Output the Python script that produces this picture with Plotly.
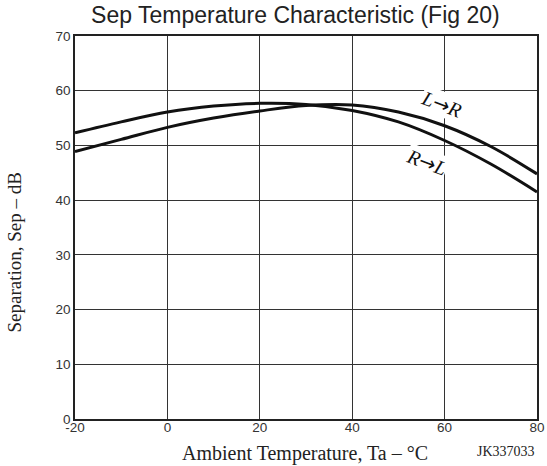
import plotly.graph_objects as go

temps = [-20, -10, 0, 10, 20, 30, 40, 50, 60, 70, 80]
sep_r_to_l = [52.3, 54.3, 56.1, 57.2, 57.7, 57.5, 56.4, 54.3, 50.9, 46.6, 41.5]
sep_l_to_r = [48.9, 51.1, 53.3, 55.0, 56.3, 57.3, 57.4, 56.1, 53.6, 49.8, 44.8]
x_ticks = [-20, 0, 20, 40, 60, 80]
y_ticks = [0, 10, 20, 30, 40, 50, 60, 70]

fig = go.Figure()
fig.add_trace(go.Scatter(x=temps, y=sep_r_to_l, mode="lines", name="R→L",
                         line=dict(color="#111", width=3, shape="spline", smoothing=1.0)))
fig.add_trace(go.Scatter(x=temps, y=sep_l_to_r, mode="lines", name="L→R",
                         line=dict(color="#111", width=3, shape="spline", smoothing=1.0)))

arrow = "<span style='font-family:DejaVu Sans;font-style:normal'>→</span>"
fig.add_annotation(x=59.4, y=57.6, text="<i>L</i>" + arrow + "<i>R</i>", showarrow=False, textangle=21,
                   font=dict(family="Liberation Serif", size=20, color="#111"),
                   bgcolor="white", borderpad=0)
fig.add_annotation(x=56.0, y=46.9, text="<i>R</i>" + arrow + "<i>L</i>", showarrow=False, textangle=21,
                   font=dict(family="Liberation Serif", size=20, color="#111"),
                   bgcolor="white", borderpad=0)

fig.add_annotation(xref="paper", yref="paper", x=0.497, y=-0.0888, xanchor="center", yanchor="middle",
                   text="Ambient Temperature, Ta – °C", showarrow=False,
                   font=dict(family="Liberation Serif", size=20, color="#222"))
fig.add_annotation(xref="paper", yref="paper", x=-0.131, y=0.436, xanchor="center", yanchor="middle",
                   text="Separation, Sep – dB", showarrow=False, textangle=-90,
                   font=dict(family="Liberation Serif", size=19, color="#222"))
fig.add_annotation(xref="paper", yref="paper", x=1.0, y=-0.086, xanchor="right", yanchor="middle",
                   text="JK337033", showarrow=False,
                   font=dict(family="Liberation Serif", size=14, color="#222"))

fig.update_layout(
    width=547, height=466, autosize=False,
    margin=dict(l=75, r=10, t=36, b=47),
    paper_bgcolor="white", plot_bgcolor="white",
    showlegend=False,
    title=dict(text="Sep Temperature Characteristic (Fig 20)", x=0.540, xanchor="center",
               y=0.968, yanchor="middle",
               font=dict(family="Liberation Sans", size=23, color="#222")),
    font=dict(family="Liberation Sans", size=13.5, color="#333"),
)
fig.update_xaxes(range=[-20, 80], tickvals=x_ticks, ticktext=[str(v) for v in x_ticks],
                 showgrid=True, gridcolor="#333", gridwidth=1, automargin=False,
                 showline=True, linecolor="#222", linewidth=1.5, mirror=True,
                 zeroline=False, ticks="", ticklabelstandoff=-5)
fig.update_yaxes(range=[0, 70], tickvals=y_ticks, automargin=False,
                 showgrid=True, gridcolor="#333", gridwidth=1,
                 showline=True, linecolor="#222", linewidth=1.5, mirror=True,
                 zeroline=False, ticks="")

fig.write_html("out.html", config={"responsive": False, "displayModeBar": False},
               post_script="document.body.style.margin='0';")
